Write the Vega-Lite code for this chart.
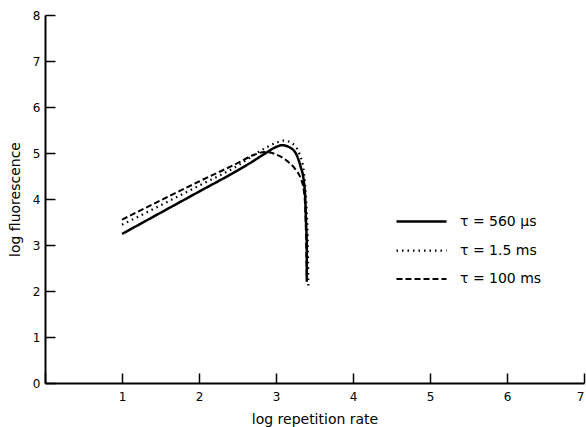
{
  "$schema": "https://vega.github.io/schema/vega-lite/v6.json",
  "autosize": "none",
  "width": 539,
  "height": 368,
  "padding": {"left": 45, "top": 15, "right": 2, "bottom": 44},
  "background": "white",
  "config": {
    "view": {"stroke": null},
    "font": "DejaVu Sans",
    "axis": {"grid": false, "domainColor": "black", "domainWidth": 2, "tickColor": "black", "tickWidth": 1.5, "labelColor": "black", "titleColor": "black", "labelFontSize": 12, "titleFontSize": 14, "titleFontWeight": "normal", "labelFont": "DejaVu Sans", "titleFont": "DejaVu Sans"}
  },
  "data": {
    "values": [
      {"s": "τ = 560 µs", "i": 1, "x": 1.0, "y": 3.24},
      {"s": "τ = 560 µs", "i": 2, "x": 1.5, "y": 3.7},
      {"s": "τ = 560 µs", "i": 3, "x": 2.0, "y": 4.16},
      {"s": "τ = 560 µs", "i": 4, "x": 2.5, "y": 4.62},
      {"s": "τ = 560 µs", "i": 5, "x": 2.7, "y": 4.82},
      {"s": "τ = 560 µs", "i": 6, "x": 2.85, "y": 4.98},
      {"s": "τ = 560 µs", "i": 7, "x": 3.0, "y": 5.13},
      {"s": "τ = 560 µs", "i": 8, "x": 3.08, "y": 5.17},
      {"s": "τ = 560 µs", "i": 9, "x": 3.18, "y": 5.12},
      {"s": "τ = 560 µs", "i": 10, "x": 3.27, "y": 4.95},
      {"s": "τ = 560 µs", "i": 11, "x": 3.32, "y": 4.7},
      {"s": "τ = 560 µs", "i": 12, "x": 3.36, "y": 4.4},
      {"s": "τ = 560 µs", "i": 13, "x": 3.38, "y": 4.0},
      {"s": "τ = 560 µs", "i": 14, "x": 3.39, "y": 3.5},
      {"s": "τ = 560 µs", "i": 15, "x": 3.4, "y": 3.0},
      {"s": "τ = 560 µs", "i": 16, "x": 3.4, "y": 2.6},
      {"s": "τ = 560 µs", "i": 17, "x": 3.4, "y": 2.2},
      {"s": "τ = 1.5 ms", "i": 1, "x": 1.0, "y": 3.44},
      {"s": "τ = 1.5 ms", "i": 2, "x": 1.5, "y": 3.86},
      {"s": "τ = 1.5 ms", "i": 3, "x": 2.0, "y": 4.29},
      {"s": "τ = 1.5 ms", "i": 4, "x": 2.5, "y": 4.72},
      {"s": "τ = 1.5 ms", "i": 5, "x": 2.8, "y": 5.05},
      {"s": "τ = 1.5 ms", "i": 6, "x": 3.0, "y": 5.22},
      {"s": "τ = 1.5 ms", "i": 7, "x": 3.1, "y": 5.27},
      {"s": "τ = 1.5 ms", "i": 8, "x": 3.2, "y": 5.22},
      {"s": "τ = 1.5 ms", "i": 9, "x": 3.3, "y": 5.0},
      {"s": "τ = 1.5 ms", "i": 10, "x": 3.36, "y": 4.6},
      {"s": "τ = 1.5 ms", "i": 11, "x": 3.39, "y": 4.0},
      {"s": "τ = 1.5 ms", "i": 12, "x": 3.41, "y": 3.2},
      {"s": "τ = 1.5 ms", "i": 13, "x": 3.42, "y": 2.1},
      {"s": "τ = 100 ms", "i": 1, "x": 1.0, "y": 3.55},
      {"s": "τ = 100 ms", "i": 2, "x": 1.5, "y": 3.97},
      {"s": "τ = 100 ms", "i": 3, "x": 2.0, "y": 4.38},
      {"s": "τ = 100 ms", "i": 4, "x": 2.5, "y": 4.78},
      {"s": "τ = 100 ms", "i": 5, "x": 2.7, "y": 4.95},
      {"s": "τ = 100 ms", "i": 6, "x": 2.85, "y": 5.02},
      {"s": "τ = 100 ms", "i": 7, "x": 3.0, "y": 4.97},
      {"s": "τ = 100 ms", "i": 8, "x": 3.15, "y": 4.82},
      {"s": "τ = 100 ms", "i": 9, "x": 3.25, "y": 4.65},
      {"s": "τ = 100 ms", "i": 10, "x": 3.32, "y": 4.45},
      {"s": "τ = 100 ms", "i": 11, "x": 3.36, "y": 4.2},
      {"s": "τ = 100 ms", "i": 12, "x": 3.38, "y": 3.8},
      {"s": "τ = 100 ms", "i": 13, "x": 3.39, "y": 3.2},
      {"s": "τ = 100 ms", "i": 14, "x": 3.4, "y": 2.3}
    ]
  },
  "mark": {"type": "line", "color": "black", "interpolate": "monotone"},
  "encoding": {
    "x": {"field": "x", "type": "quantitative", "scale": {"domain": [0, 7], "nice": false}, "axis": {"title": "log repetition rate", "values": [0,1,2,3,4,5,6,7], "tickSize": -10, "labelPadding": 18, "titlePadding": 10, "labelExpr": "datum.value == 0 ? '' : datum.label"}},
    "y": {"field": "y", "type": "quantitative", "scale": {"domain": [0, 8], "nice": false}, "axis": {"title": "log fluorescence", "values": [0,1,2,3,4,5,6,7,8], "tickSize": -10, "labelPadding": 15, "titlePadding": 10}},
    "order": {"field": "i", "type": "quantitative"},
    "strokeDash": {"field": "s", "type": "nominal", "scale": {"domain": ["τ = 560 µs", "τ = 1.5 ms", "τ = 100 ms"], "range": [[1, 0], [1.5, 4], [6, 3]]}, "legend": {"title": null, "orient": "none", "legendX": 365, "legendY": 195, "symbolType": "M -2.5 0 L 2.5 0", "symbolSize": 400, "symbolStrokeWidth": 2, "symbolStrokeColor": "black", "symbolFillColor": "transparent", "labelFont": "DejaVu Sans", "labelFontSize": 14, "labelColor": "black", "rowPadding": 10, "labelOffset": 27}},
    "strokeWidth": {"field": "s", "type": "nominal", "scale": {"domain": ["τ = 560 µs", "τ = 1.5 ms", "τ = 100 ms"], "range": [2.5, 2, 2]}, "legend": null}
  }
}
